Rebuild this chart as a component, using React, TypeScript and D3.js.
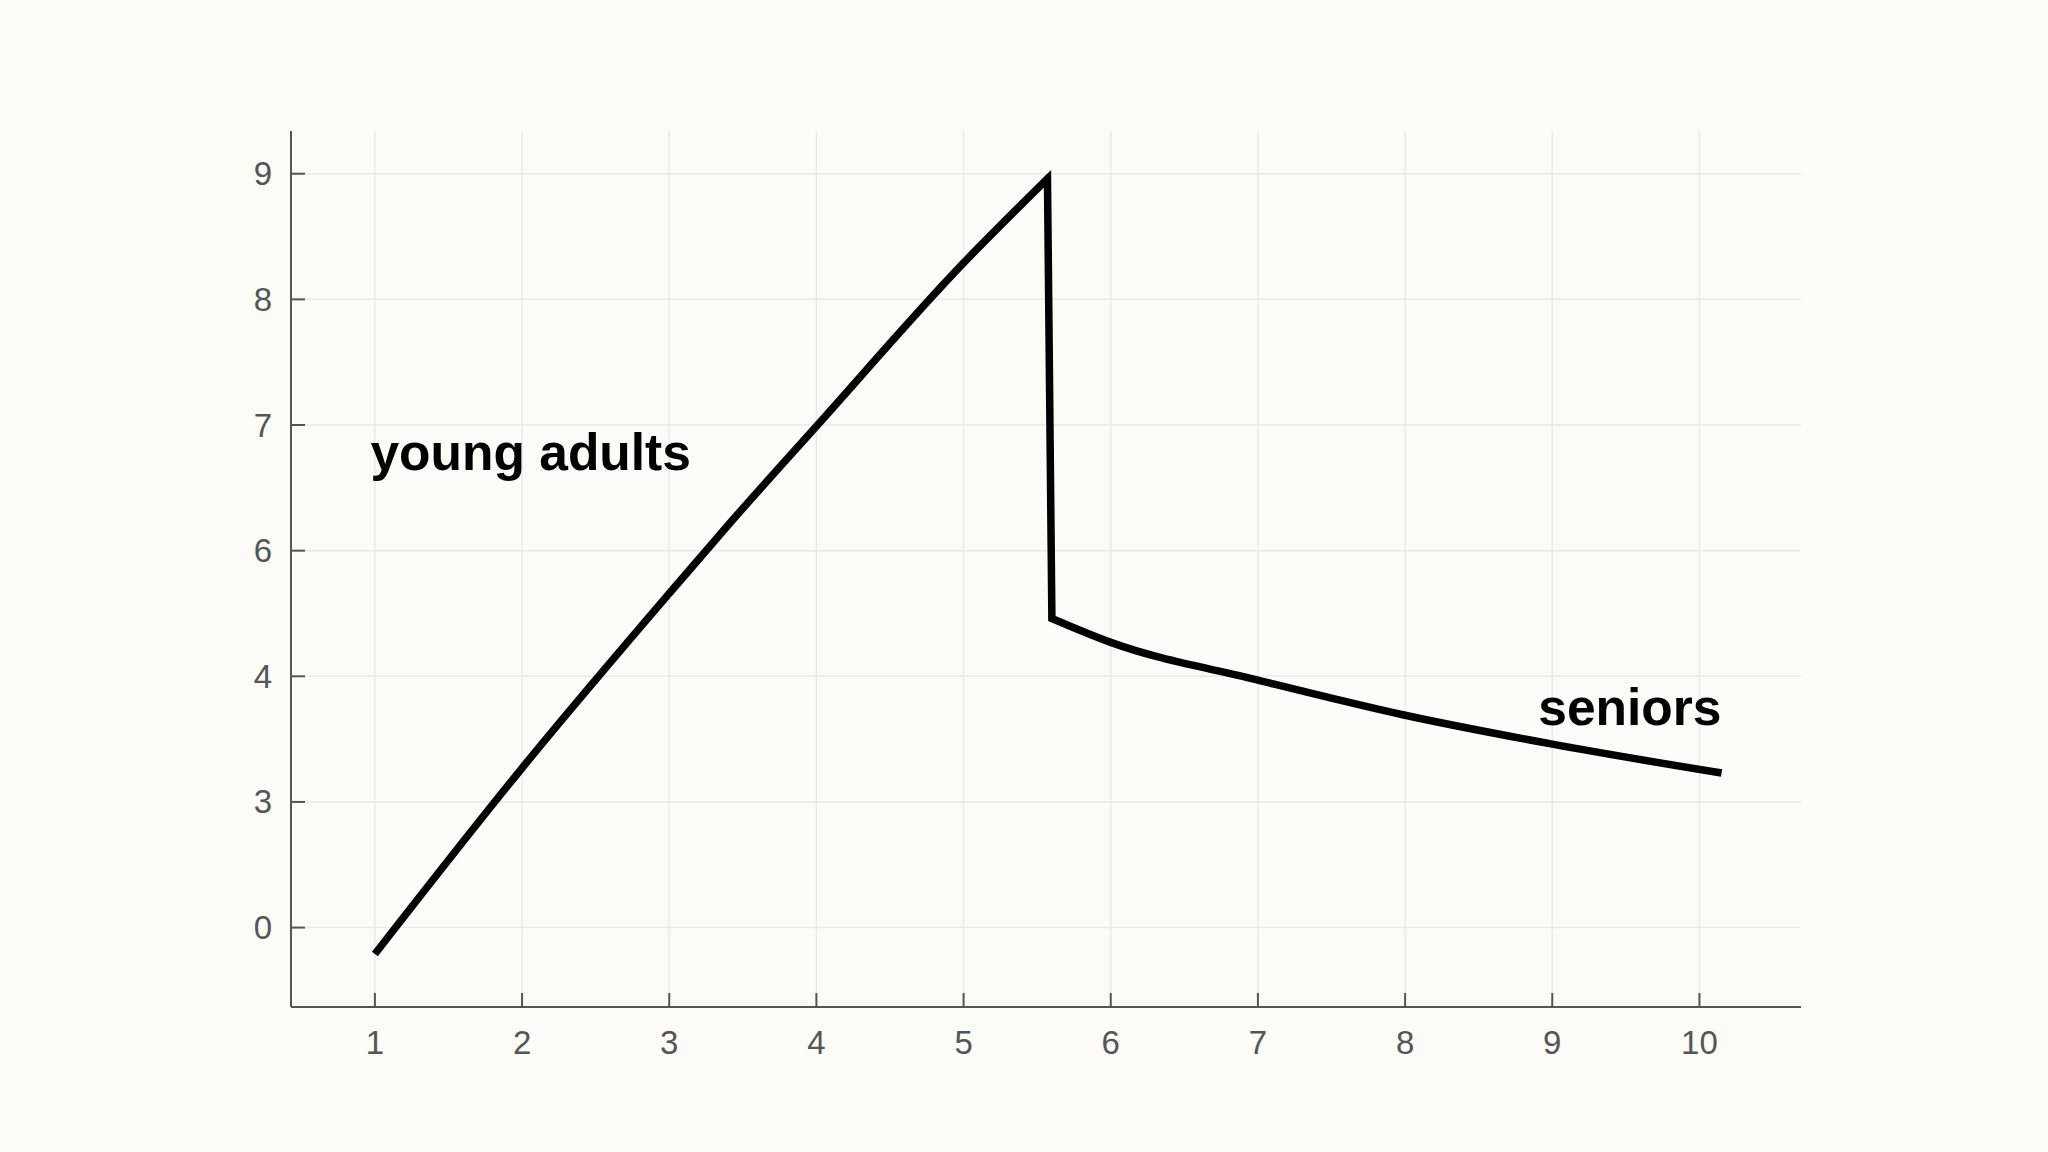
import React from "react";
import * as d3 from "d3";

// ---- data ----
const xTicks = [1, 2, 3, 4, 5, 6, 7, 8, 9, 10];
const yTickLabels = ["0", "3", "4", "6", "7", "8", "9"]; // evenly spaced categorical rungs
// rising part (young adults)
const riseX = [1, 2, 3, 3.42, 4, 5, 5.57];
const riseY = [-0.21, 1.27, 2.66, 3.23, 3.99, 5.29, 5.96];
// falling part (seniors)
const fallX = [5.6, 6, 7, 8, 9, 10.15];
const fallY = [2.46, 2.27, 1.97, 1.69, 1.46, 1.23];
const annotations = [
  { text: "young adults", x: 0.97, y: 3.64, anchor: "start" },
  { text: "seniors", x: 10.15, y: 1.61, anchor: "end" },
];

const W = 2048;
const H = 1152;

export default function App() {
  const x = d3.scaleLinear().domain([0.43, 10.69]).range([291, 1801]);
  const y = d3.scaleLinear().domain([-0.632, 6.34]).range([1007, 131]);
  const [x0, x1] = x.range();
  const [yb, yt] = y.range();

  const gen = d3
    .line<[number, number]>()
    .x((d) => x(d[0]))
    .y((d) => y(d[1]))
    .curve(d3.curveMonotoneX);
  const rise = gen(riseX.map((v, i) => [v, riseY[i]] as [number, number])) || "";
  const fall = gen(fallX.map((v, i) => [v, fallY[i]] as [number, number])) || "";
  const path = rise + "L" + fall.slice(1);

  const font = "'Liberation Sans', Arial, Helvetica, sans-serif";
  const tickColor = "#555";

  return (
    <svg
      width={W}
      height={H}
      style={{ position: "absolute", left: 0, top: 0, display: "block" }}
    >
      <rect x={0} y={0} width={W} height={H} fill="#fbfbf8" />
      {/* grid */}
      <g stroke="#e9e9e6" strokeWidth={1.5}>
        {xTicks.map((t) => (
          <line key={"gx" + t} x1={x(t)} x2={x(t)} y1={yt} y2={yb} />
        ))}
        {yTickLabels.map((_, i) => (
          <line key={"gy" + i} x1={x0} x2={x1} y1={y(i)} y2={y(i)} />
        ))}
      </g>
      {/* axes */}
      <g stroke={tickColor} strokeWidth={2}>
        <line x1={x0} x2={x0} y1={yt} y2={yb} />
        <line x1={x0} x2={x1} y1={yb} y2={yb} />
        {xTicks.map((t) => (
          <line key={"tx" + t} x1={x(t)} x2={x(t)} y1={yb} y2={yb - 14} />
        ))}
        {yTickLabels.map((_, i) => (
          <line key={"ty" + i} x1={x0} x2={x0 + 14} y1={y(i)} y2={y(i)} />
        ))}
      </g>
      <g fill={tickColor} fontFamily={font} fontSize={33}>
        {xTicks.map((t) => (
          <text key={"lx" + t} x={x(t)} y={yb + 47} textAnchor="middle">
            {t}
          </text>
        ))}
        {yTickLabels.map((l, i) => (
          <text
            key={"ly" + i}
            x={x0 - 19}
            y={y(i)}
            textAnchor="end"
            dominantBaseline="central"
          >
            {l}
          </text>
        ))}
      </g>
      {/* line */}
      <path
        d={path}
        fill="none"
        stroke="#000"
        strokeWidth={7.5}
        strokeLinejoin="miter"
        strokeLinecap="butt"
      />
      {/* annotations */}
      {annotations.map((a) => (
        <text
          key={a.text}
          x={x(a.x)}
          y={y(a.y)}
          textAnchor={a.anchor as any}
          fontFamily={font}
          fontWeight="bold"
          fontSize={51.5}
          fill="#000"
        >
          {a.text}
        </text>
      ))}
    </svg>
  );
}
